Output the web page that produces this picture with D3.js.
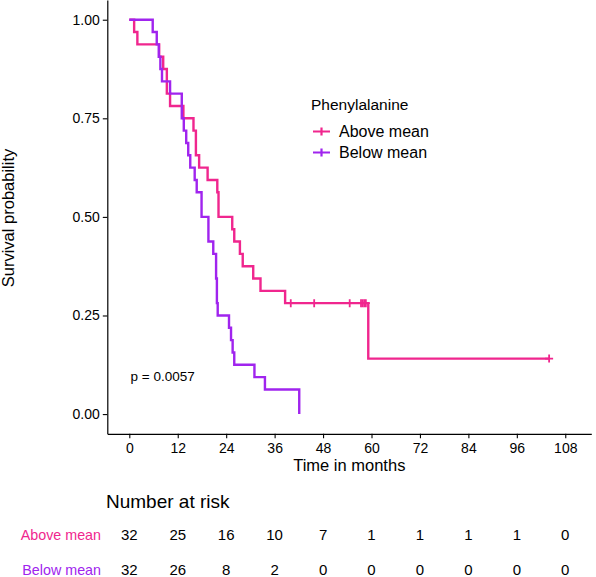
<!DOCTYPE html>
<html><head><meta charset="utf-8">
<script src="https://cdn.jsdelivr.net/npm/d3@7"></script>
<style>body{margin:0;background:#fff} svg{display:block;font-family:"Liberation Sans",Arial,sans-serif}</style>
</head><body><svg id="c" width="596" height="577"></svg>
<script>
const groups = ["Above mean", "Below mean"];
const colors = ["#F0268E", "#A024EE"];
const aboveEventTimes = [1.2, 2.0, 7.4, 8.4, 9.3, 9.3, 10.1, 13.4, 15.9, 16.5, 16.5, 17.3, 19.4, 21.8, 22.1, 22.1, 25.5, 26.0, 27.4, 28.1, 30.7, 32.5, 38.6, 59.2];
const aboveCensorTimes = [40.0, 45.8, 54.6, 57.4, 57.8, 58.2, 58.6, 104.0];
const belowEventTimes = [5.8, 6.8, 7.3, 7.7, 8.1, 10.1, 13.0, 13.0, 13.5, 14.1, 14.6, 15.1, 16.2, 16.7, 17.9, 17.9, 19.6, 19.6, 20.8, 21.5, 21.5, 21.7, 21.7, 21.9, 24.7, 25.2, 25.6, 26.0, 31.0, 33.6, 42.1, 42.1];
const belowCensorTimes = [];
const xTicks = [0, 12, 24, 36, 48, 60, 72, 84, 96, 108];
const yTicks = [0, 0.25, 0.5, 0.75, 1];
const riskAbove = [32, 25, 16, 10, 7, 1, 1, 1, 1, 0];
const riskBelow = [32, 26, 8, 2, 0, 0, 0, 0, 0, 0];
const pLabel = "p = 0.0057";
const legendTitle = "Phenylalanine";
const xTitle = "Time in months";
const yTitle = "Survival probability";
const tableTitle = "Number at risk";

function km(events, censors) {
  const n = events.length + censors.length;
  const times = Array.from(new Set([...events, ...censors])).sort((a, b) => a - b);
  let s = 1, atRisk = n;
  const pts = [{t: 0, s: 1}], cens = [];
  for (const t of times) {
    const d = events.filter(e => e === t).length;
    const c = censors.filter(e => e === t).length;
    if (d > 0) { s *= (atRisk - d) / atRisk; pts.push({t, s}); }
    if (c > 0) cens.push({t, s});
    atRisk -= d + c;
  }
  pts.push({t: times[times.length - 1], s});
  return {pts, cens};
}

const curves = [km(aboveEventTimes, aboveCensorTimes), km(belowEventTimes, belowCensorTimes)];
const riskRows = [riskAbove, riskBelow];

const svg = d3.select("#c");
const x = d3.scaleLinear().domain([-5.45, 114.45]).range([107.3, 591.3]);
const y = d3.scaleLinear().domain([-0.05, 1.05]).range([433.8, 0]);

const line = d3.line().x(d => x(d.t)).y(d => y(d.s)).curve(d3.curveStepAfter);

curves.forEach((c, i) => {
  svg.append("path").datum(c.pts).attr("d", line)
    .attr("fill", "none").attr("stroke", colors[i]).attr("stroke-width", 2.4);
  svg.append("g").selectAll("path").data(c.cens).join("path")
    .attr("d", d => `M${x(d.t) - 4},${y(d.s)}h8M${x(d.t)},${y(d.s) - 4}v8`)
    .attr("stroke", colors[i]).attr("stroke-width", 1.8).attr("fill", "none");
});

const gx = svg.append("g").attr("transform", "translate(0,433.8)")
  .call(d3.axisBottom(x).tickValues(xTicks).tickSize(4.5).tickSizeOuter(0).tickPadding(4.5));
const gy = svg.append("g").attr("transform", "translate(107.3,0)")
  .call(d3.axisLeft(y).tickValues(yTicks).tickFormat(d3.format(".2f")).tickSize(4.5).tickSizeOuter(0).tickPadding(3));
[gx, gy].forEach(g => {
  g.select(".domain").attr("stroke", "#000").attr("stroke-width", 1.2);
  g.selectAll(".tick line").attr("stroke", "#000").attr("stroke-width", 1.1);
  g.selectAll(".tick text").attr("fill", "#000").attr("font-size", 14).attr("font-family", "Liberation Sans, Arial, sans-serif");
});

svg.append("text").attr("x", 349.3).attr("y", 471).attr("text-anchor", "middle")
  .attr("font-size", 16.5).text(xTitle);
svg.append("text").attr("transform", "translate(14,218) rotate(-90)").attr("text-anchor", "middle")
  .attr("font-size", 16.5).text(yTitle);

svg.append("text").attr("x", 130.5).attr("y", 381).attr("font-size", 13.5).text(pLabel);

// legend
const lx = 311;
svg.append("text").attr("x", lx).attr("y", 110).attr("font-size", 15.5).text(legendTitle);
groups.forEach((g, i) => {
  const cy = 131.5 + i * 21;
  svg.append("path").attr("d", `M${lx + 2},${cy}h17M${lx + 10.5},${cy - 4}v8`)
    .attr("stroke", colors[i]).attr("stroke-width", 2.2);
  svg.append("text").attr("x", lx + 28).attr("y", cy).attr("dy", "0.35em")
    .attr("font-size", 16).text(g);
});

// risk table
svg.append("text").attr("x", 106).attr("y", 508).attr("font-size", 19).text(tableTitle);
riskRows.forEach((row, i) => {
  const cy = 535 + i * 35;
  svg.append("text").attr("x", 101).attr("y", cy).attr("dy", "0.35em").attr("text-anchor", "end")
    .attr("font-size", 14.3).attr("fill", colors[i]).text(groups[i]);
  svg.append("g").selectAll("text").data(row).join("text")
    .attr("x", (d, j) => x(xTicks[j])).attr("y", cy).attr("dy", "0.35em")
    .attr("text-anchor", "middle").attr("font-size", 15).text(d => d);
});
</script></body></html>
